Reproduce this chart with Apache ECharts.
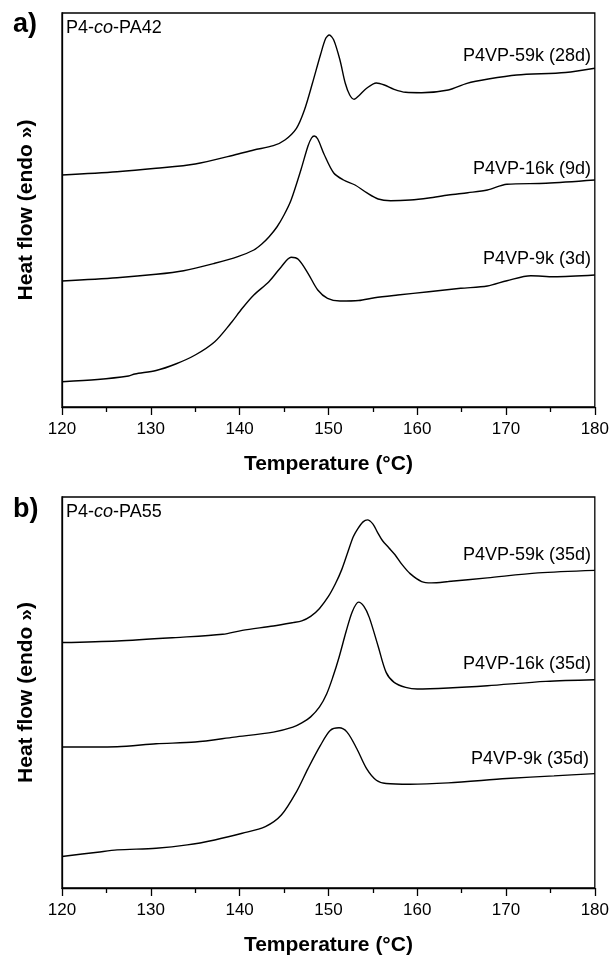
<!DOCTYPE html>
<html>
<head>
<meta charset="utf-8">
<script src="https://cdn.jsdelivr.net/npm/echarts@6/dist/echarts.min.js"></script>
<style>html,body{margin:0;padding:0;background:#fff}#c{width:612px;height:957px}</style>
</head>
<body>
<div id="c"></div>
<script>
// Panel a) P4-co-PA42 — temperature (°C) and heat flow (a.u., offset curves)
const tempA59 = [120,126.2,130.6,135,139.4,141.6,143.8,145.1,146.4,147.3,148.2,149.1,149.7,150.1,150.6,151.3,151.9,152.4,152.9,153.4,154.3,155.4,156.3,157.4,158.7,160.5,163.5,165.6,168,171.2,176.7,180];
const heatA59 = [232,235.3,238.7,243,252,257,261.3,267,278.7,297,323.7,352,368.7,372,367,347,323.7,312,307.7,311,318.7,324,322,317.7,314.7,314.3,317,323.7,328,332,334.5,338.7];
const tempA16 = [120,126.2,130.6,133.7,137.2,139.8,141.6,142.5,143.3,144.2,145,145.8,146.9,147.7,148.1,148.4,148.8,149.5,150.6,151.7,153,154.3,155.6,157,159.2,161.3,163.5,165.7,167.9,170.1,174.5,180];
const heatA16 = [126,129.3,132.7,136.3,143.7,150.3,157,163,170,180,192,207,237,261,269,271,268,253,234,227,222,214.3,208,206.3,207,209,212,214.3,217,222.7,223.7,227];
const tempA9 = [120,124,127.5,128.2,130.6,132.8,135,137.2,139,140.3,141.6,143.3,144.7,145.8,146.6,147.7,148.8,149.9,151.3,153.4,155.2,157.8,161.3,164.9,167.9,170.1,172.8,175.4,180];
const heatA9 = [25.3,27.5,31,33,36.5,43,52,65.3,83.7,98.7,112,125.3,140.3,149.7,147.7,133.7,117,108.7,106,106.5,109.3,112,115.3,118.7,121,126.3,131.3,130.3,132];

// Panel b) P4-co-PA55
const tempB59 = [120,126.2,132.8,138.1,140.3,143.8,146,147,148,149,150,150.8,151.5,152.2,152.8,153.3,153.9,154.4,155,155.5,156.1,156.8,157.5,158.3,159.2,160.5,161.6,163.5,167.9,173.6,180];
const heatB59 = [246.7,248.3,251.7,255,259,263.3,266.7,268.5,273,281,293,306,320,338,353,361,368,370,366,358,349,342,335,325,316,308,306.7,308,311.7,316.7,319.3];
const tempB16 = [120,126.2,130.6,135,139.4,143.8,146,147,148,149,149.8,150.5,151.2,152,152.7,153.4,154,154.6,155.6,156.5,157.4,158.7,160,163.5,167.9,174.5,180];
const heatB16 = [141.7,142,145,146.7,151.7,156.7,161.7,166,172,182,195,212,232,258,278,287.3,283,272,243,216.7,206.7,201.7,200,201,203.3,207.7,209.3];
const tempB9 = [120,124,126.2,130.6,134.1,137.2,140.3,142.9,144.7,146.4,147.7,149.1,150.2,151.2,152.1,153.2,154.3,155.4,156.5,159.2,163.5,170.1,175.4,180];
const heatB9 = [31.7,36,38.3,40,43.3,48.3,55,61.7,73.3,96.7,120,143.3,158.3,161,156.7,140,120,108.3,105,104.3,105.7,110,112.7,115];

const xTicks = [120,130,140,150,160,170,180];
const labelsA = ['P4VP-59k (28d)','P4VP-16k (9d)','P4VP-9k (3d)'];
const labelsB = ['P4VP-59k (35d)','P4VP-16k (35d)','P4VP-9k (35d)'];

const FONT = "'Liberation Sans', Arial, sans-serif";
const zip = (t, h) => t.map((v, i) => [v, h[i]]);

function xAxis(gi) {
  return {
    gridIndex: gi, type: 'value', min: xTicks[0], max: xTicks[xTicks.length-1], interval: 10,
    name: 'Temperature (°C)', nameLocation: 'middle', nameGap: 47,
    nameTextStyle: {fontFamily: FONT, fontSize: 21, fontWeight: 'bold', color: '#000'},
    axisLine: {lineStyle: {color: '#000', width: 1.3}},
    axisTick: {inside: false, length: 8, lineStyle: {color: '#000', width: 1.3}},
    minorTick: {show: true, splitNumber: 2, length: 5, lineStyle: {color: '#000', width: 1.3}},
    splitLine: {show: false},
    axisLabel: {fontFamily: FONT, fontSize: 17, color: '#000', margin: 14}
  };
}
function yAxis(gi, max) {
  return {
    gridIndex: gi, type: 'value', min: 0, max: max,
    name: 'Heat flow (endo »)', nameLocation: 'middle', nameGap: 25,
    nameTextStyle: {fontFamily: FONT, fontSize: 21, fontWeight: 'bold', color: '#000'},
    axisLine: {show: true, lineStyle: {color: '#000', width: 1.3}},
    axisTick: {show: false}, axisLabel: {show: false}, splitLine: {show: false}
  };
}
function line(xi, t, h) {
  return {
    type: 'line', xAxisIndex: xi, yAxisIndex: xi, data: zip(t, h), smooth: 0.3,
    showSymbol: false, lineStyle: {color: '#000', width: 1.4}, silent: true, animation: false
  };
}
function txt(x, y, text, align, size, bold) {
  return {type: 'text', x: x, y: y, silent: true,
    style: {text: text, textAlign: align, textVerticalAlign: 'middle', verticalAlign: 'middle',
      fontFamily: FONT, fontSize: size, fontWeight: bold ? 'bold' : 'normal', fill: '#000'}};
}
function richTxt(x, y, pre, it, post) {
  return {type: 'text', x: x, y: y, silent: true,
    style: {text: '{n|' + pre + '}{i|' + it + '}{n|' + post + '}', textAlign: 'left',
      textVerticalAlign: 'middle', verticalAlign: 'middle', fontFamily: FONT, fontSize: 18, fill: '#000',
      rich: {n: {fontFamily: FONT, fontSize: 18, color: '#000'},
             i: {fontFamily: FONT, fontSize: 18, fontStyle: 'italic', color: '#000'}}}};
}

const chart = echarts.init(document.getElementById('c'), null, {renderer: 'canvas'});
chart.setOption({
  backgroundColor: '#fff',
  animation: false,
  grid: [
    {left: 62, top: 13, width: 533, height: 394, show: true, borderColor: '#000', borderWidth: 1.3, backgroundColor: 'transparent'},
    {left: 62, top: 497, width: 533, height: 393, show: true, borderColor: '#000', borderWidth: 1.3, backgroundColor: 'transparent'}
  ],
  xAxis: [xAxis(0), xAxis(1)],
  yAxis: [yAxis(0, 394), yAxis(1, 393)],
  series: [
    line(0, tempA59, heatA59), line(0, tempA16, heatA16), line(0, tempA9, heatA9),
    line(1, tempB59, heatB59), line(1, tempB16, heatB16), line(1, tempB9, heatB9)
  ],
  graphic: [
    txt(13, 25, 'a)', 'left', 27, true),
    txt(13, 510, 'b)', 'left', 27, true),
    richTxt(66, 28, 'P4-', 'co', '-PA42'),
    richTxt(66, 512, 'P4-', 'co', '-PA55'),
    txt(591, 56, labelsA[0], 'right', 18),
    txt(591, 169, labelsA[1], 'right', 18),
    txt(591, 259, labelsA[2], 'right', 18),
    txt(591, 555, labelsB[0], 'right', 18),
    txt(591, 664, labelsB[1], 'right', 18),
    txt(589, 759, labelsB[2], 'right', 18)
  ]
});
</script>
</body>
</html>
